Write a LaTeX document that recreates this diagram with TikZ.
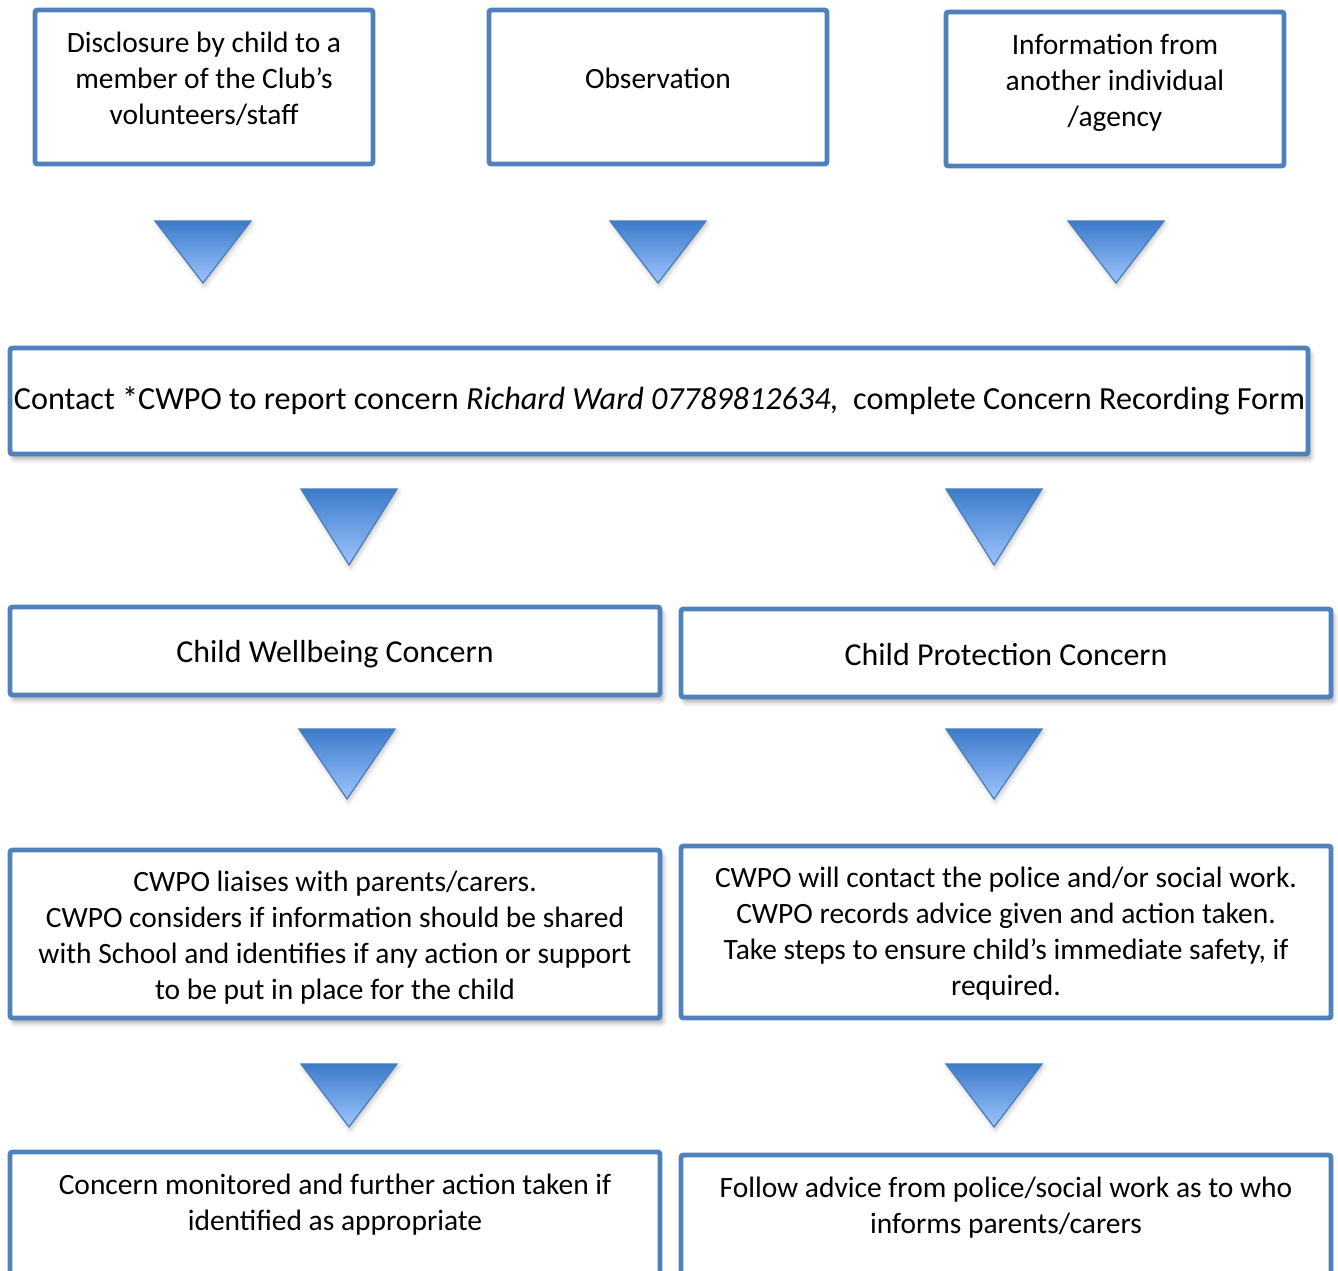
\documentclass[tikz,border=0pt]{standalone}
\usepackage{fontspec}
\setmainfont{Carlito}
\usetikzlibrary{shadows.blur}
\definecolor{boxblue}{HTML}{4F81BD}
\definecolor{tritop}{HTML}{3C7BCA}
\definecolor{tribot}{HTML}{9EC4FD}
\definecolor{triline}{HTML}{4A7DBA}
\newcommand{\px}{0.407pt}
\begin{document}
\begin{tikzpicture}[x=0.407pt,y=-0.407pt,
    box/.style = {rectangle,draw=boxblue,line width=2pt,rounded corners=1pt,fill=white,inner sep=0pt},
    shadowed/.style = {blur shadow={shadow xshift=1.2pt,shadow yshift=-2pt,shadow blur steps=6,shadow opacity=35}},
    txt/.style = {align=center,inner sep=0pt,font=\fontsize{12}{14.65}\selectfont},
    bigtxt/.style = {align=center,inner sep=0pt,font=\fontsize{13}{16}\selectfont},
    tri/.style = {draw=triline,line width=0.5pt,top color=tritop,bottom color=tribot,
                  blur shadow={shadow xshift=0.6pt,shadow yshift=-1pt,shadow blur steps=4,shadow opacity=25}}]
\useasboundingbox (0,0) rectangle (1338,1270);
\clip (0,0) rectangle (1338,1270);
% sources of a concern
\node[box,minimum width=338*\px,minimum height=154*\px] (disclosure) at (204,87) {};
\node[box,minimum width=338*\px,minimum height=154*\px] (observation) at (658,87) {};
\node[box,minimum width=338*\px,minimum height=154*\px] (information) at (1115,89) {};
\node[txt] (disclosuretext) at (204,79) {Disclosure by child to a\\member of the Club’s\\volunteers/staff};
\node[txt] (observationtext) at (658,78) {Observation};
\node[txt] (informationtext) at (1115,83) {Information from\\another individual\\/agency};
% report
\node[box,shadowed,minimum width=1298*\px,minimum height=106*\px] (contact) at (659,401) {};
\node[bigtxt,font=\fontsize{13.1}{16}\selectfont] (contacttext) at (659.5,401) {Contact *CWPO to report concern \textit{Richard Ward 07789812634,}\ \ complete Concern Recording Form};
% two kinds of concern
\node[box,shadowed,minimum width=650*\px,minimum height=88*\px] (wellbeing) at (335,651) {};
\node[box,shadowed,minimum width=650*\px,minimum height=88*\px] (protection) at (1006,653) {};
\node[bigtxt] (wellbeingtext) at (335,654) {Child Wellbeing Concern};
\node[bigtxt] (protectiontext) at (1006,655) {Child Protection Concern};
% actions
\node[box,shadowed,minimum width=650*\px,minimum height=168*\px] (liaise) at (335,934) {};
\node[box,minimum width=650*\px,minimum height=172*\px] (police) at (1006,932) {};
\node[txt] (liaisetext) at (335,937.5) {CWPO liaises with parents/carers.\\CWPO considers if information should be shared\\with School and identifies if any action or support\\to be put in place for the child};
\node[txt] (policetext) at (1006,934) {CWPO will contact the police and/or social work.\\CWPO records advice given and action taken.\\Take steps to ensure child’s immediate safety, if\\required.};
% follow up
\node[box,minimum width=650*\px,minimum height=200*\px] (monitor) at (335,1252) {};
\node[box,minimum width=650*\px,minimum height=200*\px] (advice) at (1006,1255) {};
\node[txt] (monitortext) at (335,1205) {Concern monitored and further action taken if\\identified as appropriate};
\node[txt] (advicetext) at (1006,1208) {Follow advice from police/social work as to who\\informs parents/carers};
% arrows between the rows
\foreach \cx/\ty/\by in {203/221/283,658/221/283,1116/221/283,349/489/565,994/489/565,347/729/799,994/729/799,349/1064/1127,994/1064/1127}
    \shade[tri] (\cx-48,\ty) -- (\cx+48,\ty) -- (\cx,\by) -- cycle;
\end{tikzpicture}
\end{document}
